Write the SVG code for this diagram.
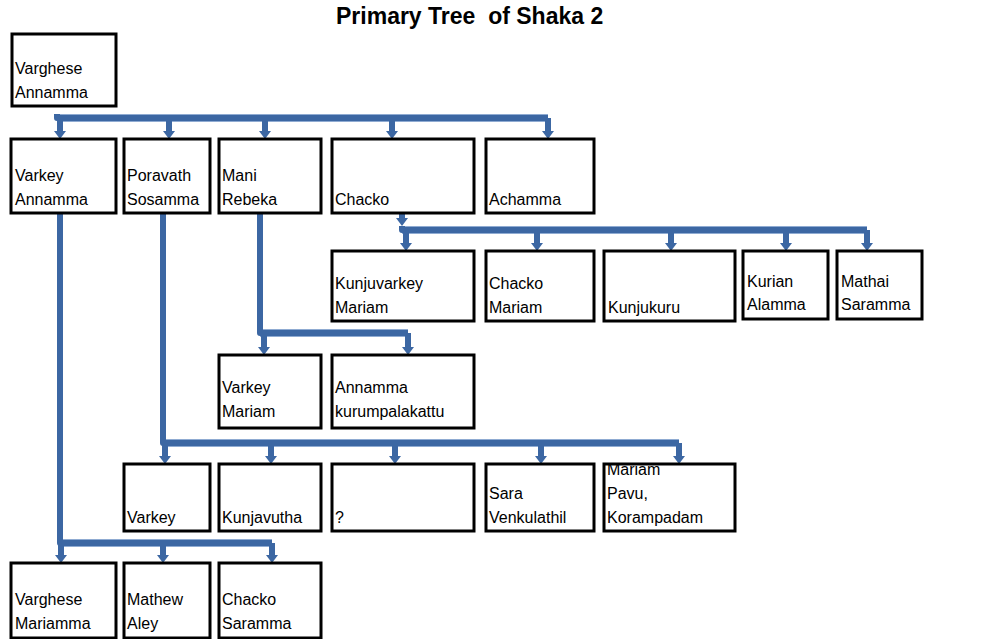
<svg xmlns="http://www.w3.org/2000/svg" width="1000" height="639" viewBox="0 0 1000 639">
<defs>
<style>
.box{fill:#fff;stroke:#000;stroke-width:3}
.t{font-family:"Liberation Sans",Arial,sans-serif;font-size:16px;fill:#000}
.title{font-family:"Liberation Sans",Arial,sans-serif;font-size:23px;font-weight:bold;fill:#000}
.c{fill:none;stroke:#3c67a3;stroke-width:6;stroke-linejoin:round}
.ce{fill:none;stroke:#8fabd2;stroke-width:8;stroke-linejoin:round}
</style>
<marker id="ah" viewBox="0 0 8 12" refX="0" refY="6" markerWidth="8" markerHeight="12" markerUnits="userSpaceOnUse" orient="auto">
<path d="M0,0 L8,6 L0,12 z" fill="#3c67a3"/>
</marker>
<clipPath id="clipMariam"><rect x="604" y="464" width="131" height="67"/></clipPath>
</defs>
<rect width="1000" height="639" fill="#fff"/>
<text class="title" x="336" y="24" xml:space="preserve">Primary Tree  of Shaka 2</text>

<g id="connectors">
<g class="ce-layer">
<path class="ce" d="M57,118 H548"/>
<path class="ce" d="M402,230 H867"/>
<path class="ce" d="M260,333 H408"/>
<path class="ce" d="M163,443 H679"/>
<path class="ce" d="M60,543 H272"/>
</g>
<!-- Varghese Annamma -> row 2 -->
<path class="c" d="M57,107 V104" marker-end="url(#ah)"/>
<path class="c" d="M57,114 V118 H548"/>
<path class="c" d="M60,118 V131" marker-end="url(#ah)"/>
<path class="c" d="M169,118 V131" marker-end="url(#ah)"/>
<path class="c" d="M265,118 V131" marker-end="url(#ah)"/>
<path class="c" d="M392,118 V131" marker-end="url(#ah)"/>
<path class="c" d="M548,118 V131" marker-end="url(#ah)"/>
<!-- Chacko -> row 3 -->
<path class="c" d="M402,214 V218" marker-end="url(#ah)"/>
<path class="c" d="M402,226 V230 H867"/>
<path class="c" d="M406,230 V243" marker-end="url(#ah)"/>
<path class="c" d="M537,230 V243" marker-end="url(#ah)"/>
<path class="c" d="M671,230 V243" marker-end="url(#ah)"/>
<path class="c" d="M786,230 V243" marker-end="url(#ah)"/>
<path class="c" d="M867,230 V243" marker-end="url(#ah)"/>
<!-- Mani Rebeka -> row 4 -->
<path class="c" d="M260,214 V333 H408"/>
<path class="c" d="M264,333 V347" marker-end="url(#ah)"/>
<path class="c" d="M408,333 V347" marker-end="url(#ah)"/>
<!-- Poravath Sosamma -> row 5 -->
<path class="c" d="M163,214 V443 H679"/>
<path class="c" d="M165,443 V456" marker-end="url(#ah)"/>
<path class="c" d="M271,443 V456" marker-end="url(#ah)"/>
<path class="c" d="M395,443 V456" marker-end="url(#ah)"/>
<path class="c" d="M541,443 V456" marker-end="url(#ah)"/>
<path class="c" d="M679,443 V456" marker-end="url(#ah)"/>
<!-- Varkey Annamma -> row 6 -->
<path class="c" d="M60,214 V543 H272"/>
<path class="c" d="M61,543 V555" marker-end="url(#ah)"/>
<path class="c" d="M163,543 V555" marker-end="url(#ah)"/>
<path class="c" d="M272,543 V555" marker-end="url(#ah)"/>
</g>

<g id="n-varghese-annamma"><rect class="box" x="12" y="34" width="104" height="72"/><text class="t" x="15" y="74">Varghese</text><text class="t" x="15" y="98">Annamma</text></g>

<g id="n-varkey-annamma"><rect class="box" x="11" y="139" width="105" height="74"/><text class="t" x="15" y="181">Varkey</text><text class="t" x="15" y="205">Annamma</text></g>
<g id="n-poravath-sosamma"><rect class="box" x="124" y="139" width="86" height="74"/><text class="t" x="127" y="181">Poravath</text><text class="t" x="127" y="205">Sosamma</text></g>
<g id="n-mani-rebeka"><rect class="box" x="219" y="139" width="102" height="74"/><text class="t" x="222" y="181">Mani</text><text class="t" x="222" y="205">Rebeka</text></g>
<g id="n-chacko"><rect class="box" x="332" y="139" width="142" height="74"/><text class="t" x="335" y="205">Chacko</text></g>
<g id="n-achamma"><rect class="box" x="486" y="139" width="108" height="74"/><text class="t" x="489" y="205">Achamma</text></g>

<g id="n-kunjuvarkey-mariam"><rect class="box" x="332" y="251" width="142" height="70"/><text class="t" x="335" y="289">Kunjuvarkey</text><text class="t" x="335" y="313">Mariam</text></g>
<g id="n-chacko-mariam"><rect class="box" x="486" y="251" width="108" height="70"/><text class="t" x="489" y="289">Chacko</text><text class="t" x="489" y="313">Mariam</text></g>
<g id="n-kunjukuru"><rect class="box" x="604" y="251" width="131" height="70"/><text class="t" x="608" y="313">Kunjukuru</text></g>
<g id="n-kurian-alamma"><rect class="box" x="743" y="251" width="85" height="68"/><text class="t" x="747" y="287">Kurian</text><text class="t" x="747" y="310">Alamma</text></g>
<g id="n-mathai-saramma"><rect class="box" x="837" y="251" width="85" height="68"/><text class="t" x="841" y="287">Mathai</text><text class="t" x="841" y="310">Saramma</text></g>

<g id="n-varkey-mariam"><rect class="box" x="219" y="355" width="102" height="73"/><text class="t" x="222" y="393">Varkey</text><text class="t" x="222" y="417">Mariam</text></g>
<g id="n-annamma-kurumpalakattu"><rect class="box" x="332" y="355" width="142" height="73"/><text class="t" x="335" y="393">Annamma</text><text class="t" x="335" y="417">kurumpalakattu</text></g>

<g id="n-varkey"><rect class="box" x="124" y="464" width="86" height="67"/><text class="t" x="127" y="523">Varkey</text></g>
<g id="n-kunjavutha"><rect class="box" x="219" y="464" width="102" height="67"/><text class="t" x="222" y="523">Kunjavutha</text></g>
<g id="n-unknown"><rect class="box" x="332" y="464" width="142" height="67"/><text class="t" x="335" y="523">?</text></g>
<g id="n-sara-venkulathil"><rect class="box" x="486" y="464" width="108" height="67"/><text class="t" x="489" y="499">Sara</text><text class="t" x="489" y="523">Venkulathil</text></g>
<g id="n-mariam-pavu"><rect class="box" x="604" y="464" width="131" height="67"/><text class="t" x="607" y="475" clip-path="url(#clipMariam)">Mariam</text><text class="t" x="607" y="499">Pavu,</text><text class="t" x="607" y="523">Korampadam</text></g>

<g id="n-varghese-mariamma"><rect class="box" x="11" y="563" width="105" height="75"/><text class="t" x="15" y="605">Varghese</text><text class="t" x="15" y="629">Mariamma</text></g>
<g id="n-mathew-aley"><rect class="box" x="124" y="563" width="86" height="75"/><text class="t" x="127" y="605">Mathew</text><text class="t" x="127" y="629">Aley</text></g>
<g id="n-chacko-saramma"><rect class="box" x="219" y="563" width="102" height="75"/><text class="t" x="222" y="605">Chacko</text><text class="t" x="222" y="629">Saramma</text></g>
</svg>
